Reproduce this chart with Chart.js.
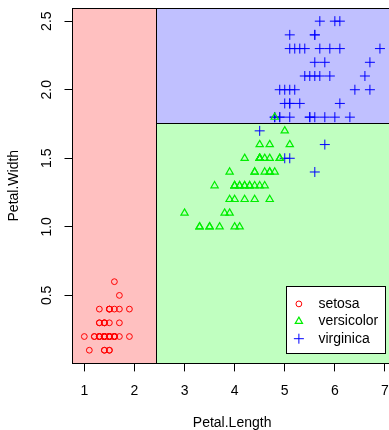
<!DOCTYPE html>
<html>
<head>
<meta charset="utf-8">
<script src="https://cdn.jsdelivr.net/npm/chart.js@4/dist/chart.umd.min.js"></script>
<style>
  html, body { margin: 0; padding: 0; overflow: hidden; background: #fff; }
  #wrap { width: 400px; height: 430px; position: relative; }
</style>
</head>
<body>
<div id="wrap"><canvas id="c"></canvas></div>
<script>
// Iris petal measurements by species
const species = ['setosa', 'versicolor', 'virginica'];

const setosaLength = [1.4,1.4,1.3,1.5,1.4,1.7,1.4,1.5,1.4,1.5,1.5,1.6,1.4,1.1,1.2,1.5,1.3,1.4,1.7,1.5,
                      1.7,1.5,1.0,1.7,1.9,1.6,1.6,1.5,1.4,1.6,1.6,1.5,1.5,1.4,1.5,1.2,1.3,1.4,1.3,1.5,
                      1.3,1.3,1.3,1.6,1.9,1.4,1.6,1.4,1.5,1.4];
const setosaWidth  = [0.2,0.2,0.2,0.2,0.2,0.4,0.3,0.2,0.2,0.1,0.2,0.2,0.1,0.1,0.2,0.4,0.4,0.3,0.3,0.3,
                      0.2,0.4,0.2,0.5,0.2,0.2,0.4,0.2,0.2,0.2,0.2,0.4,0.1,0.2,0.2,0.2,0.2,0.1,0.2,0.2,
                      0.3,0.3,0.2,0.6,0.4,0.3,0.2,0.2,0.2,0.2];

const versicolorLength = [4.7,4.5,4.9,4.0,4.6,4.5,4.7,3.3,4.6,3.9,3.5,4.2,4.0,4.7,3.6,4.4,4.5,4.1,4.5,3.9,
                          4.8,4.0,4.9,4.7,4.3,4.4,4.8,5.0,4.5,3.5,3.8,3.7,3.9,5.1,4.5,4.5,4.7,4.4,4.1,4.0,
                          4.4,4.6,4.0,3.3,4.2,4.2,4.2,4.3,3.0,4.1];
const versicolorWidth  = [1.4,1.5,1.5,1.3,1.5,1.3,1.6,1.0,1.3,1.4,1.0,1.5,1.0,1.4,1.3,1.4,1.5,1.0,1.5,1.1,
                          1.8,1.3,1.5,1.2,1.3,1.4,1.4,1.7,1.5,1.0,1.1,1.0,1.2,1.6,1.5,1.6,1.5,1.3,1.3,1.3,
                          1.2,1.4,1.2,1.0,1.3,1.2,1.3,1.3,1.1,1.3];

const virginicaLength = [6.0,5.1,5.9,5.6,5.8,6.6,4.5,6.3,5.8,6.1,5.1,5.3,5.5,5.0,5.1,5.3,5.5,6.7,6.9,5.0,
                         5.7,4.9,6.7,4.9,5.7,6.0,4.8,4.9,5.6,5.8,6.1,6.4,5.6,5.1,5.6,6.1,5.6,5.5,4.8,5.4,
                         5.6,5.1,5.1,5.9,5.7,5.2,5.0,5.2,5.4,5.1];
const virginicaWidth  = [2.5,1.9,2.1,1.8,2.2,2.1,1.7,1.8,1.8,2.5,2.0,1.9,2.1,2.0,2.4,2.3,1.8,2.2,2.3,1.5,
                         2.3,2.0,2.0,1.8,2.1,1.8,1.8,1.8,2.1,1.6,1.9,2.0,2.2,1.5,1.4,2.3,2.4,1.8,1.8,2.1,
                         2.4,2.3,1.9,2.3,2.5,2.3,1.9,2.0,2.3,1.8];

// Tree splits partitioning the plane
const lengthSplit = 2.45;
const widthSplit = 1.75;

// Axis ranges and tick labels
const xRange = [0.764, 7.136];
const yRange = [0.004, 2.596];
const xTicks = [1, 2, 3, 4, 5, 6, 7];
const yTicks = [0.5, 1.0, 1.5, 2.0, 2.5];
const yTickLabels = ['0.5', '1.0', '1.5', '2.0', '2.5'];
const xTitle = 'Petal.Length';
const yTitle = 'Petal.Width';

const FONT = '"Liberation Sans", Arial, Helvetica, sans-serif';
const pointColors = ['#FF0000', '#00EE00', '#0000FF'];
const pointStyles = ['circle', 'triangle', 'cross'];
const pointSizes = [2.9, 4.2, 5];
const regionColors = { setosa: '#FFC0C0', versicolor: '#C0FFC0', virginica: '#C0C0FF' };

function toPoints(xs, ys) { return xs.map((v, i) => ({ x: v, y: ys[i] })); }

const seriesX = [setosaLength, versicolorLength, virginicaLength];
const seriesY = [setosaWidth, versicolorWidth, virginicaWidth];

const datasets = species.map((name, i) => ({
  label: name,
  data: toPoints(seriesX[i], seriesY[i]),
  pointStyle: pointStyles[i],
  pointRadius: pointSizes[i],
  pointBorderWidth: i === 1 ? 1.2 : 1,
  borderColor: pointColors[i],
  backgroundColor: 'rgba(0,0,0,0)',
  pointHoverRadius: pointSizes[i]
}));

function crisp(v) { return Math.round(v - 0.5) + 0.5; }

function drawSymbol(ctx, style, x, y, r, color) {
  ctx.save();
  ctx.strokeStyle = color;
  ctx.lineWidth = style === 'triangle' ? 1.2 : 1;
  ctx.beginPath();
  if (style === 'circle') {
    ctx.arc(x, y, r, 0, Math.PI * 2);
  } else if (style === 'triangle') {
    for (let k = 0; k < 3; k++) {
      const a = k * 2 * Math.PI / 3;
      const px = x + Math.sin(a) * r, py = y - Math.cos(a) * r;
      if (k === 0) ctx.moveTo(px, py); else ctx.lineTo(px, py);
    }
    ctx.closePath();
  } else {
    ctx.moveTo(x - r, y); ctx.lineTo(x + r, y);
    ctx.moveTo(x, y - r); ctx.lineTo(x, y + r);
  }
  ctx.stroke();
  ctx.restore();
}

// Shaded decision regions behind the points
const regionPlugin = {
  id: 'regions',
  beforeDatasetsDraw(chart) {
    const { ctx, chartArea: a, scales: { x, y } } = chart;
    const xs = crisp(x.getPixelForValue(lengthSplit));
    const ys = crisp(y.getPixelForValue(widthSplit));
    const rects = [
      [a.left, a.top, xs - a.left, a.bottom - a.top, regionColors.setosa],
      [xs, a.top, a.right - xs, ys - a.top, regionColors.virginica],
      [xs, ys, a.right - xs, a.bottom - ys, regionColors.versicolor]
    ];
    ctx.save();
    rects.forEach(r => { ctx.fillStyle = r[4]; ctx.fillRect(r[0], r[1], r[2], r[3]); });
    ctx.strokeStyle = '#000';
    ctx.lineWidth = 1;
    ctx.beginPath();
    ctx.moveTo(xs, a.top); ctx.lineTo(xs, a.bottom);
    ctx.moveTo(xs, ys); ctx.lineTo(a.right, ys);
    ctx.stroke();
    ctx.restore();
  },
  afterDraw(chart) {
    const { ctx, chartArea: a, scales: { x, y } } = chart;
    ctx.save();
    // plot frame
    ctx.strokeStyle = '#000';
    ctx.lineWidth = 1;
    ctx.strokeRect(crisp(a.left), crisp(a.top), Math.round(a.right - a.left), Math.round(a.bottom - a.top));

    // rotated y tick labels
    ctx.fillStyle = '#000';
    ctx.font = '14px ' + FONT;
    ctx.textAlign = 'center';
    ctx.textBaseline = 'middle';
    yTicks.forEach((v, i) => {
      ctx.save();
      ctx.translate(47.5, y.getPixelForValue(v));
      ctx.rotate(-Math.PI / 2);
      ctx.fillText(yTickLabels[i], 0, 0);
      ctx.restore();
    });

    // axis titles
    ctx.fillText(xTitle, (a.left + a.right) / 2, 423);
    ctx.save();
    ctx.translate(14, (a.top + a.bottom) / 2);
    ctx.rotate(-Math.PI / 2);
    ctx.fillText(yTitle, 0, 0);
    ctx.restore();

    // legend in the lower right corner
    const bw = 99, bh = 67;
    const bx = a.right - 0.02 * (a.right - a.left) - bw;
    const by = a.bottom - 77;
    ctx.fillStyle = '#fff';
    ctx.fillRect(bx, by, bw, bh);
    ctx.strokeRect(crisp(bx), crisp(by), bw, bh);
    ctx.textAlign = 'left';
    species.forEach((name, i) => {
      const cy = by + 17.5 + i * 17.4;
      drawSymbol(ctx, pointStyles[i], bx + 12.5, cy, pointSizes[i], pointColors[i]);
      ctx.fillStyle = '#000';
      ctx.fillText(name, bx + 32, cy);
    });
    ctx.restore();
  }
};

new Chart(document.getElementById('c'), {
  type: 'scatter',
  data: { datasets },
  plugins: [regionPlugin],
  options: {
    responsive: true,
    maintainAspectRatio: false,
    devicePixelRatio: 1,
    animation: false,
    layout: { padding: { left: 0, right: 7.4, top: 8, bottom: 0 } },
    plugins: { legend: { display: false }, tooltip: { enabled: false } },
    scales: {
      x: {
        type: 'linear',
        min: xRange[0], max: xRange[1],
        afterBuildTicks: s => { s.ticks = xTicks.map(v => ({ value: v })); },
        afterFit: s => { s.height = 66.6; },
        grid: { display: true, drawOnChartArea: false, drawTicks: true, tickLength: 8, color: '#000' },
        border: { display: false },
        ticks: {
          autoSkip: false, maxRotation: 0, minRotation: 0, padding: 11,
          color: '#000', font: { family: FONT, size: 14 },
          callback: v => String(v)
        }
      },
      y: {
        type: 'linear',
        min: yRange[0], max: yRange[1],
        afterBuildTicks: s => { s.ticks = yTicks.map(v => ({ value: v })); },
        afterFit: s => { s.width = 72.5; },
        grid: { display: true, drawOnChartArea: false, drawTicks: true, tickLength: 8, color: '#000' },
        border: { display: false },
        ticks: { display: false }
      }
    }
  }
});
</script>
</body>
</html>
